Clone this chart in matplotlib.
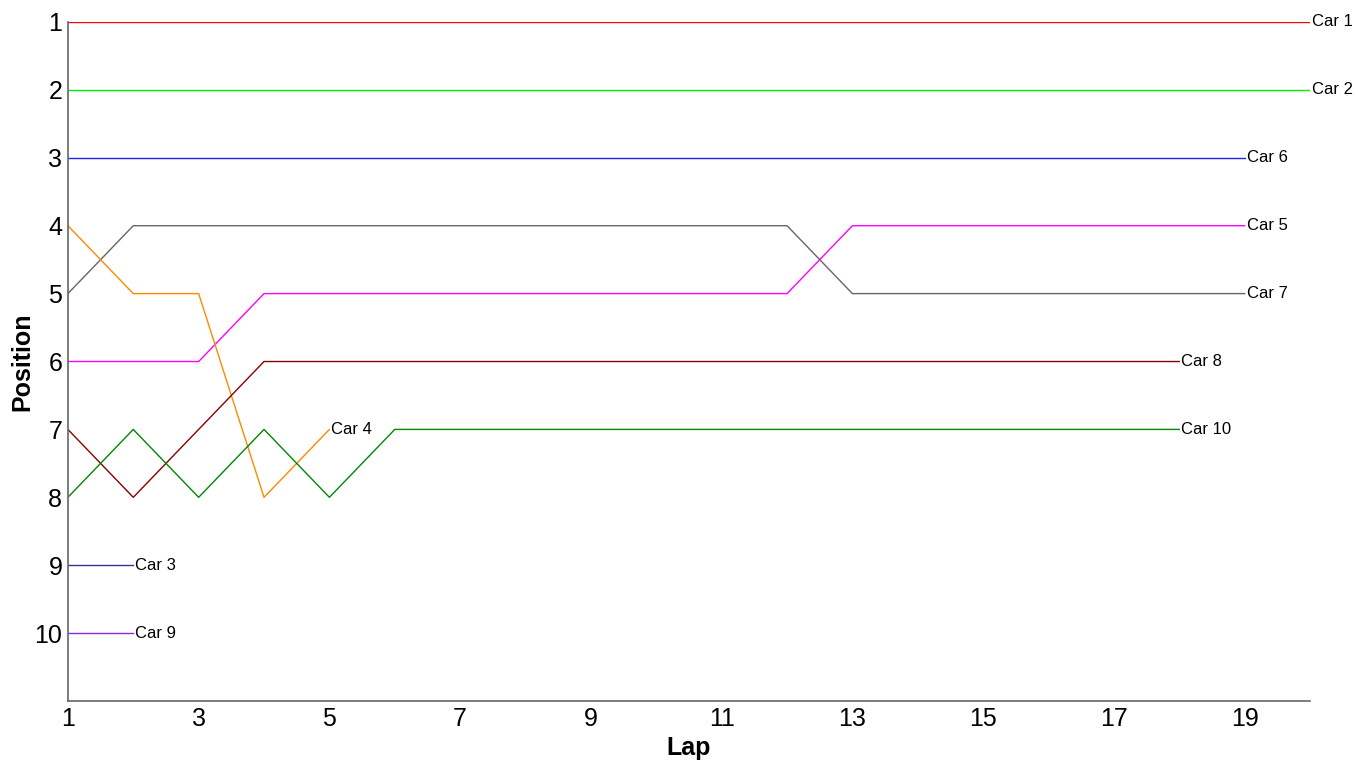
import matplotlib
matplotlib.use("Agg")
import matplotlib.pyplot as plt

plt.rcParams["font.family"] = ["Liberation Sans", "DejaVu Sans"]

# positions per lap, lap 1 first
CARS = ["Car 1", "Car 2", "Car 6", "Car 7", "Car 5", "Car 4", "Car 8", "Car 10", "Car 3", "Car 9"]
POSITIONS = {
    "Car 1": [1] * 20,
    "Car 2": [2] * 20,
    "Car 6": [3] * 19,
    "Car 7": [5, 4, 4, 4, 4, 4, 4, 4, 4, 4, 4, 4, 5, 5, 5, 5, 5, 5, 5],
    "Car 5": [6, 6, 6, 5, 5, 5, 5, 5, 5, 5, 5, 5, 4, 4, 4, 4, 4, 4, 4],
    "Car 4": [4, 5, 5, 8, 7],
    "Car 8": [7, 8, 7, 6, 6, 6, 6, 6, 6, 6, 6, 6, 6, 6, 6, 6, 6, 6],
    "Car 10": [8, 7, 8, 7, 8, 7, 7, 7, 7, 7, 7, 7, 7, 7, 7, 7, 7, 7],
    "Car 3": [9, 9],
    "Car 9": [10, 10],
}
COLORS = {
    "Car 1": "#ff0000",
    "Car 2": "#00ee00",
    "Car 6": "#2222ee",
    "Car 7": "#666666",
    "Car 5": "#ff00ff",
    "Car 4": "#ff8800",
    "Car 8": "#880000",
    "Car 10": "#008800",
    "Car 3": "#333399",
    "Car 9": "#8a2be2",
}


def main() -> None:
    fig = plt.figure(figsize=(13.58, 7.61), dpi=100)
    ax = fig.add_axes([0.050, 0.0788, 0.9147, 0.8923])

    for car in CARS:
        pos = POSITIONS[car]
        laps = list(range(1, len(pos) + 1))
        ax.plot(laps, pos, color=COLORS[car], linewidth=1.0)
        ax.annotate(car, (laps[-1], pos[-1]), xytext=(1.5, 0), textcoords="offset points",
                    ha="left", va="center", fontsize=12)

    ax.set_xlim(1, 20)
    ax.set_ylim(11, 1)
    ax.set_xticks(range(1, 20, 2))
    ax.set_yticks(range(1, 11))
    ax.tick_params(length=0, labelsize=18, pad=4)
    for side in ("top", "right"):
        ax.spines[side].set_visible(False)
    for side in ("left", "bottom"):
        ax.spines[side].set_color("#666666")
        ax.spines[side].set_linewidth(1.2)
    ax.set_xlabel("Lap", fontsize=18, fontweight="bold")
    ax.set_ylabel("Position", fontsize=18, fontweight="bold")
    ax.xaxis.set_label_coords(0.5, -0.069)
    ax.yaxis.set_label_coords(-0.037, 0.5)
    ax.yaxis.label.set_va("center")
    ax.xaxis.label.set_va("center")

    fig.savefig("out.png", dpi=100)


if __name__ == "__main__":
    main()
